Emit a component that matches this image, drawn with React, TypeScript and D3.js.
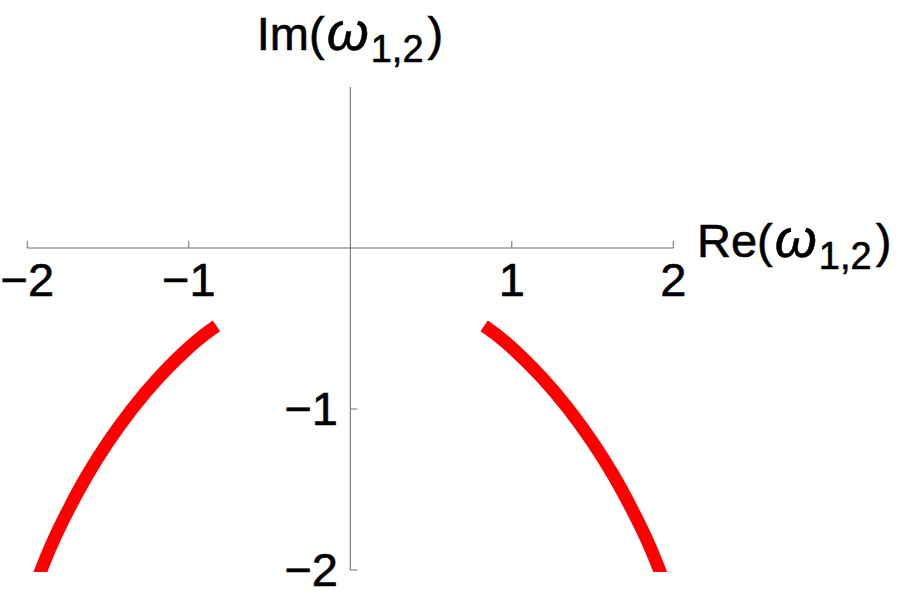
import { useEffect, useRef } from 'react';
import * as d3 from 'd3';

// Branch values (Re, Im)
const leftRe = [-0.829, -0.965, -1.181, -1.354, -1.502, -1.634, -1.745, -1.844, -1.918, -1.983];
const leftIm = [-0.483, -0.588, -0.799, -1.004, -1.209, -1.42, -1.625, -1.83, -2.01, -2.184];
const rightRe = [0.829, 0.965, 1.181, 1.354, 1.502, 1.634, 1.745, 1.844, 1.918, 1.983];
const rightIm = [-0.483, -0.588, -0.799, -1.004, -1.209, -1.42, -1.625, -1.83, -2.01, -2.184];

const xTicks = [-2, -1, 1, 2];
const yTicks = [-1, -2];

const App = () => {
  const svgRef = useRef<SVGSVGElement>(null);

  useEffect(() => {
    const width = 900;
    const height = 598;
    const font = 'Liberation Sans, Arial, sans-serif';
    const axisColor = '#6b6b6b';
    const fs = 47;

    const xScale = d3.scaleLinear().domain([-2, 2]).range([27.3, 673.3]);
    const yScale = d3.scaleLinear().domain([-2, 1]).range([570, 87]);

    const svg = d3.select(svgRef.current);
    svg.selectAll('*').remove();
    svg.attr('width', width).attr('height', height);

    // clip curves at the bottom of the plot range
    svg.append('clipPath').attr('id', 'plotClip')
      .append('rect')
      .attr('x', 0).attr('y', 0)
      .attr('width', width).attr('height', yScale(-2) + 2);

    const x0 = xScale(0);
    const y0 = yScale(0);

    const addText = (x: number, y: number, anchor: string, s: string) =>
      svg.append('text')
        .attr('x', x).attr('y', y)
        .attr('text-anchor', anchor)
        .attr('font-family', font)
        .attr('font-size', fs)
        .attr('fill', 'black')
        .attr('stroke', 'black')
        .attr('stroke-width', 0.6)
        .text(s);

    // X axis
    svg.append('line')
      .attr('x1', xScale(-2)).attr('x2', xScale(2))
      .attr('y1', y0).attr('y2', y0)
      .attr('stroke', axisColor).attr('stroke-width', 1);

    xTicks.forEach(t => {
      svg.append('line')
        .attr('x1', xScale(t)).attr('x2', xScale(t))
        .attr('y1', y0).attr('y2', y0 - 7)
        .attr('stroke', axisColor).attr('stroke-width', 1);
      addText(xScale(t), 296, 'middle', t < 0 ? `\u2212${Math.abs(t)}` : `${t}`);
    });

    // Y axis
    svg.append('line')
      .attr('x1', x0).attr('x2', x0)
      .attr('y1', yScale(1)).attr('y2', yScale(-2))
      .attr('stroke', axisColor).attr('stroke-width', 1);

    yTicks.forEach(t => {
      svg.append('line')
        .attr('x1', x0).attr('x2', x0 + 7)
        .attr('y1', yScale(t)).attr('y2', yScale(t))
        .attr('stroke', axisColor).attr('stroke-width', 1);
      addText(338, yScale(t) + 16, 'end', `\u2212${Math.abs(t)}`);
    });

    // Axis labels
    const addLabel = (prefix: string, x: number, y: number, anchor: string) => {
      const txt = addText(x, y, anchor, '');
      txt.append('tspan').text(`${prefix}(`);
      txt.append('tspan').attr('font-style', 'italic').attr('font-size', 54).attr('dx', 2).text('\u03C9');
      txt.append('tspan').attr('font-size', 38).attr('dx', 2).attr('dy', 12).text('1,2');
      txt.append('tspan').attr('dx', 4).attr('dy', -12).text(')');
    };
    addLabel('Im', 350, 50, 'middle');
    addLabel('Re', 697, 257, 'start');

    // Curves
    const line = d3.line<[number, number]>()
      .x(d => xScale(d[0]))
      .y(d => yScale(d[1]))
      .curve(d3.curveNatural);

    const branches: [number, number][][] = [
      leftRe.map((r, i) => [r, leftIm[i]] as [number, number]),
      rightRe.map((r, i) => [r, rightIm[i]] as [number, number]),
    ];

    branches.forEach(b => {
      svg.append('path')
        .datum(b)
        .attr('clip-path', 'url(#plotClip)')
        .attr('fill', 'none')
        .attr('stroke', '#ff0000')
        .attr('stroke-width', 13)
        .attr('stroke-linecap', 'butt')
        .attr('d', line);
    });
  }, []);

  return (
    <svg ref={svgRef} style={{ position: 'absolute', left: 0, top: 0 }}></svg>
  );
};

export default App;
